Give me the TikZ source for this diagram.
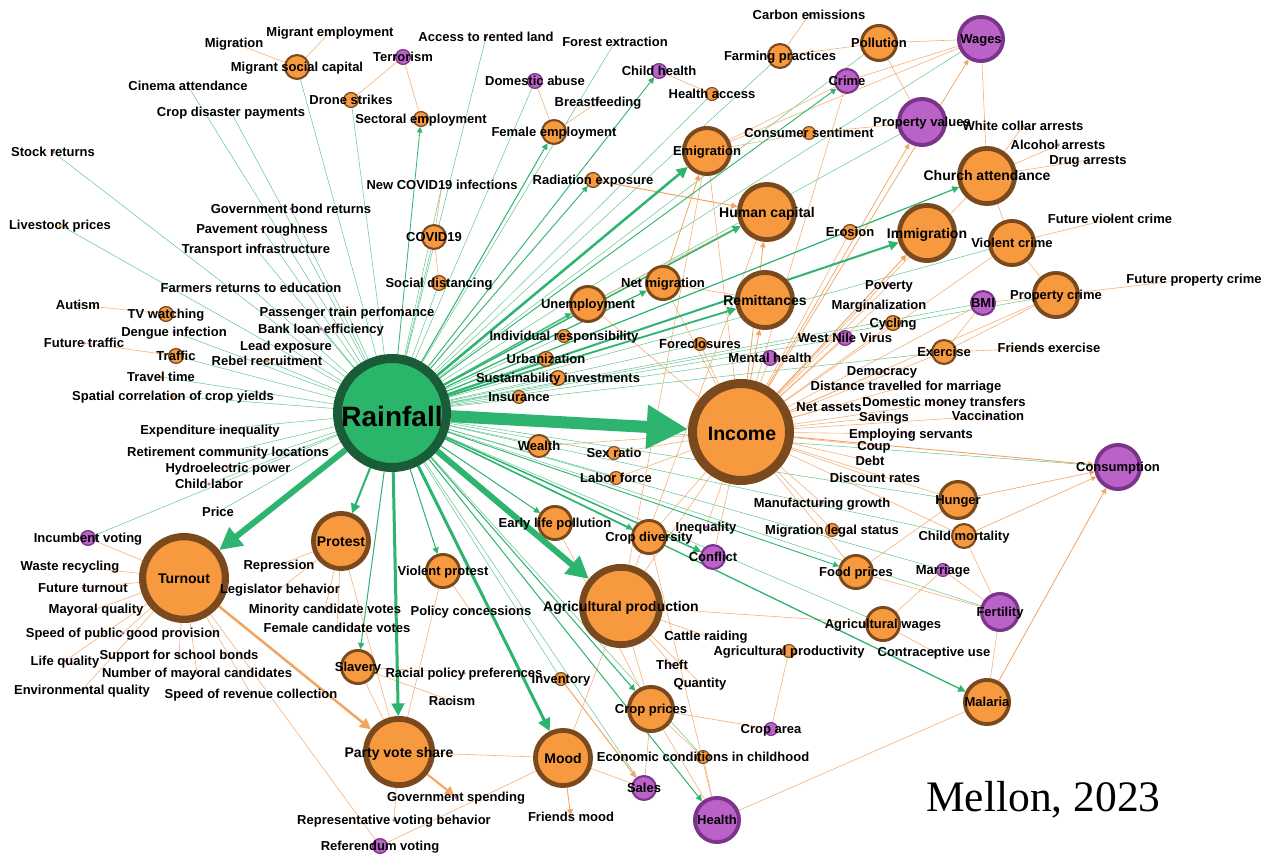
\documentclass[tikz,border=0pt]{standalone}
\usepackage{fontspec}
\setmainfont{Liberation Sans}
\newfontfamily\mellonfont{Liberation Serif}
\usetikzlibrary{arrows.meta}

\definecolor{ofill}{HTML}{F7993F}
\definecolor{oline}{HTML}{7A4A1E}
\definecolor{pfill}{HTML}{BA62C7}
\definecolor{pline}{HTML}{7A358A}
\definecolor{rfill}{HTML}{2BB56B}
\definecolor{rline}{HTML}{1B5C38}
\definecolor{gedge}{HTML}{2DB46E}
\definecolor{oedge}{HTML}{F4A461}

\pgfdeclarelayer{edgelayer}
\pgfdeclarelayer{textlayer}
\pgfsetlayers{edgelayer,main,textlayer}

\tikzset{
  ball/.style={circle, inner sep=0pt, minimum size={1.84pt*#1}, line width={0.16pt*#1}},
  onode/.style={ball=#1, fill=ofill, draw=oline},
  pnode/.style={ball=#1, fill=pfill, draw=pline},
  odot/.style={circle, inner sep=0pt, minimum size=3.5pt, fill=ofill},
  pdot/.style={circle, inner sep=0pt, minimum size=3.5pt, fill=pfill},
  lbl/.style={font=\bfseries\fontsize{13}{15}\selectfont, inner sep=0pt, anchor=base, yshift=-4.7pt},
  lblbig/.style={font=\bfseries\fontsize{14}{16}\selectfont, inner sep=0pt, anchor=base, yshift=-5pt},
  glink/.style={draw=gedge, line width=#1, -{Triangle[length=3pt 3.2, width=3pt 3.2]}},
  gthin/.style={draw=gedge, line width=0.5pt, draw opacity=0.75},
  olink/.style={draw=oedge, line width=#1, -{Triangle[length=3pt 3.2, width=3pt 3.2]}},
  othin/.style={draw=oedge, line width=0.6pt, draw opacity=0.85},
}

\begin{document}
\begin{tikzpicture}[x=1pt,y=-1pt,line cap=round,line join=round]
  \begin{pgfonlayer}{edgelayer}
    \path[fill=white, use as bounding box] (0,0) rectangle (1267,856);
  \end{pgfonlayer}

  \node[circle, inner sep=0pt, minimum size=109pt, line width=9pt, fill=rfill, draw=rline] (rain) at (392,413) {};
  \node[circle, inner sep=0pt, minimum size=97pt, line width=9pt, fill=ofill, draw=oline] (inc) at (741,432) {};

  \foreach \n/\x/\y/\rad/\txt in {
    turn/184/578/45/Turnout,
    agp/621/606/42/Agricultural production,
    pvs/399/752/36/Party vote share,
    mood/563/758/30/Mood,
    hcap/767/212/30/Human capital,
    remit/765/300/30/Remittances,
    immi/927/233/30/Immigration,
    church/987/176/30/Church attendance,
    protest/341/541/30/Protest}{
    \node[onode=\rad] (\n) at (\x,\y) {};
    \begin{pgfonlayer}{textlayer}
      \node[lblbig] (\n-t) at (\x,\y) {\txt};
    \end{pgfonlayer}
  }

  \foreach \n/\x/\y/\rad/\txt in {
    emig/707/151/25/Emigration,
    vcrime/1012/243/24/Violent crime,
    pcrime/1056/295/24/Property crime,
    malaria/987/702/24/Malaria,
    cprice/651/709/24/Crop prices,
    poll/879/43/19/Pollution,
    unemp/588/304/19/Unemployment,
    hunger/958/500/20/Hunger,
    netmig/663/283/18/Net migration,
    vprotest/443/571/18/Violent protest,
    slavery/358/667/18/Slavery,
    cdiv/649/537/18/Crop diversity,
    awage/883/624/18/Agricultural wages,
    fprice/856/572/18/Food prices,
    elpoll/555/523/18/Early life pollution,
    farm/780/56/13/Farming practices,
    msoc/297/67/13/Migrant social capital,
    femp/554/132/13/Female employment,
    covid/434/237/13/COVID19,
    wealth/539/446/12/Wealth,
    cmort/964/536/13/Child mortality,
    exer/944/352/13/Exercise,
    drone/351/100/8/Drone strikes,
    sectemp/421/119/8/Sectoral employment,
    radexp/593/180/8/Radiation exposure,
    socdist/439/283/8/Social distancing,
    hacc/712/94/7/Health access,
    consent/809/133/7/Consumer sentiment,
    erosion/850/232/8/Erosion,
    cycling/893/323/8/Cycling,
    foreclos/700/344/7/Foreclosures,
    indresp/564/336/7/Individual responsibility,
    urban/546/359/8/Urbanization,
    sustinv/558/378/8/Sustainability investments,
    insur/519/397/7/Insurance,
    sexratio/614/453/7/Sex ratio,
    laborf/616/478/7/Labor force,
    miglegal/832/530/7/Migration legal status,
    inventory/561/679/7/Inventory,
    agprod/789/651/7/Agricultural productivity,
    econchild/703/757/7/Economic conditions in childhood,
    traffic/176/356/8/Traffic,
    tv/166/314/8/TV watching}{
    \node[onode=\rad] (\n) at (\x,\y) {};
    \begin{pgfonlayer}{textlayer}
      \node[lbl] (\n-t) at (\x,\y) {\txt};
    \end{pgfonlayer}
  }

  \foreach \n/\x/\y/\rad/\txt in {
    wages/981/39/24/Wages,
    pval/922/122/25/Property values,
    consump/1118/467/24/Consumption,
    health/717/820/24/Health,
    fert/1000/612/20/Fertility,
    crime/847/81/13/Crime,
    bmi/983/303/13/BMI,
    conflict/713/557/13/Conflict,
    sales/644/788/13/Sales,
    terror/403/57/8/Terrorism,
    dabuse/535/81/8/Domestic abuse,
    chealth/659/71/8/Child health,
    wnv/845/338/8/West Nile Virus,
    mhealth/770/358/8/Mental health,
    croparea/771/729/7/Crop area,
    marriage/943/570/7/Marriage,
    incvote/88/538/8/Incumbent voting,
    refvote/380/846/8/Referendum voting}{
    \node[pnode=\rad] (\n) at (\x,\y) {};
    \begin{pgfonlayer}{textlayer}
      \node[lbl] (\n-t) at (\x,\y) {\txt};
    \end{pgfonlayer}
  }

  \foreach \n/\x/\y/\txt in {
    migr/234/43/Migration,
    migemp/330/32/Migrant employment,
    cdisp/231/112/Crop disaster payments,
    stock/53/152/Stock returns,
    gbond/291/209/Government bond returns,
    pave/262/229/Pavement roughness,
    transp/256/249/Transport infrastructure,
    rented/486/37/Access to rented land,
    forest/615/42/Forest extraction,
    breast/598/102/Breastfeeding,
    carbon/809/15/Carbon emissions,
    alcohol/1058/145/Alcohol arrests,
    drug/1088/160/Drug arrests,
    futvc/1110/219/Future violent crime,
    futpc/1194/279/Future property crime,
    frex/1049/348/Friends exercise,
    newcov/442/185/New COVID19 infections,
    poverty/889/285/Poverty,
    margin/879/305/Marginalization,
    democ/882/371/Democracy,
    distmar/906/386/Distance travelled for marriage,
    netass/829/407/Net assets,
    dommon/944/402/Domestic money transfers,
    vacc/988/416/Vaccination,
    servants/911/434/Employing servants,
    coup/874/446/Coup,
    manuf/822/503/Manufacturing growth,
    ineq/706/527/Inequality,
    cattle/706/636/Cattle raiding,
    contra/934/652/Contraceptive use,
    theft/672/665/Theft,
    autism/78/305/Autism,
    dengue/174/332/Dengue infection,
    futtraf/84/343/Future traffic,
    bank/321/329/Bank loan efficiency,
    lead/286/346/Lead exposure,
    expineq/210/430/Expenditure inequality,
    retire/228/452/Retirement community locations,
    childlab/209/484/Child labor,
    waste/70/566/Waste recycling,
    repress/279/565/Repression,
    futturn/83/588/Future turnout,
    legis/280/589/Legislator behavior,
    minor/325/609/Minority candidate votes,
    policy/471/611/Policy concessions,
    speedpg/123/633/Speed of public good provision,
    femcand/337/628/Female candidate votes,
    lifeq/65/661/Life quality,
    school/179/655/Support for school bonds,
    nmayor/197/673/Number of mayoral candidates,
    envq/82/690/Environmental quality,
    speedrev/251/694/Speed of revenue collection,
    racialp/464/673/Racial policy preferences,
    racism/452/701/Racism,
    govspend/456/797/Government spending,
    repvote/394/820/Representative voting behavior}{
    \node[pdot] (\n) at (\x,\y) {};
    \begin{pgfonlayer}{textlayer}
      \node[lbl] (\n-t) at (\x,\y) {\txt};
    \end{pgfonlayer}
  }

  \foreach \n/\x/\y/\txt in {
    cinema/188/86/Cinema attendance,
    livest/60/225/Livestock prices,
    farmret/251/288/Farmers returns to education,
    wcollar/1023/126/White collar arrests,
    savings/884/417/Savings,
    debt/870/461/Debt,
    discount/875/478/Discount rates,
    quant/700/683/Quantity,
    travel/161/377/Travel time,
    spatial/173/396/Spatial correlation of crop yields,
    train/347/312/Passenger train perfomance,
    rebel/267/361/Rebel recruitment,
    hydro/228/468/Hydroelectric power,
    price/218/512/Price,
    mayq/96/609/Mayoral quality,
    frmood/571/817/Friends mood}{
    \node[odot] (\n) at (\x,\y) {};
    \begin{pgfonlayer}{textlayer}
      \node[lbl] (\n-t) at (\x,\y) {\txt};
    \end{pgfonlayer}
  }

  \begin{pgfonlayer}{textlayer}
    \node[font=\bfseries\fontsize{28}{30}\selectfont, inner sep=0pt, anchor=base] (rain-t) at (392,426) {Rainfall};
    \node[font=\bfseries\fontsize{19.5}{22}\selectfont, inner sep=0pt, anchor=base] (inc-t) at (742,440) {Income};
    \node[font=\mellonfont\fontsize{43.5}{48}\selectfont, inner sep=0pt, anchor=base west] (cite) at (926,811) {Mellon, 2023};
  \end{pgfonlayer}

  \begin{pgfonlayer}{edgelayer}
    \foreach \n in {stock, livest, cinema, cdisp, msoc, drone, rented, forest, dabuse,
      gbond, pave, transp, farmret, covid, socdist, newcov, dengue, traffic, travel,
      spatial, train, bank, lead, rebel, expineq, retire, hydro, childlab, price, incvote,
      farm, poll, wages, pval, vcrime, bmi, exer, pcrime, indresp, urban, sustinv, insur,
      wealth, sexratio, laborf, consump, hunger, cmort, awage, fert, sales, econchild,
      inventory, mhealth, wnv, foreclos, hacc, marriage}
      \draw[gthin] (rain) -- (\n);

    \foreach \a/\b in {migr/msoc, migemp/msoc, terror/drone, terror/sectemp, dabuse/femp,
      breast/femp, chealth/hacc, carbon/farm, farm/poll, poll/wages, poll/pval, emig/crime,
      emig/wages, crime/wages, consent/pval, consent/emig, newcov/covid, covid/socdist,
      autism/tv, futtraf/traffic, church/wcollar, church/alcohol, church/drug, church/vcrime,
      vcrime/futvc, vcrime/pcrime, pcrime/futpc, pcrime/exer, pcrime/bmi, bmi/exer, exer/frex,
      wages/church, inc/crime, inc/poverty, inc/margin, inc/cycling, inc/wnv, inc/mhealth,
      inc/foreclos, inc/democ, inc/distmar, inc/netass, inc/dommon, inc/savings, inc/vacc,
      inc/servants, inc/coup, inc/debt, inc/discount, inc/hunger, inc/manuf, inc/miglegal,
      inc/ineq, inc/conflict, inc/cdiv, inc/cmort, inc/vcrime, inc/pcrime, inc/church,
      inc/bmi, inc/exer, inc/sexratio, inc/laborf, inc/wealth, inc/emig, inc/erosion,
      inc/netmig, inc/unemp, inc/fprice, inc/agp, turn/incvote, turn/waste, turn/futturn,
      turn/mayq, turn/speedpg, turn/lifeq, turn/envq, turn/school, turn/nmayor, turn/speedrev,
      turn/refvote, protest/repress, protest/legis, protest/minor, protest/femcand,
      protest/pvs, slavery/racialp, slavery/racism, slavery/pvs, vprotest/policy,
      vprotest/pvs, pvs/repvote, pvs/mood, refvote/mood, mood/agp, mood/sales, agp/cattle,
      agp/theft, agp/quant, agp/cprice, agp/awage, agp/emig, agp/hcap, cprice/croparea,
      cprice/health, cprice/econchild, cprice/sales, agprod/croparea, econchild/health,
      health/malaria, malaria/fert, fprice/hunger, fprice/fert, marriage/fert, cmort/fert,
      awage/contra, awage/marriage, elpoll/cprice, cdiv/health, netmig/remit, unemp/hcap}
      \draw[othin] (\a) -- (\b);

    \foreach \a/\b/\w in {turn/pvs/2.5pt, pvs/govspend/2pt, inventory/sales/1pt,
      mood/frmood/0.9pt, radexp/hcap/1pt, netmig/emig/0.8pt, inc/remit/0.8pt,
      inc/hcap/0.8pt, inc/immi/0.9pt, inc/wages/0.7pt, inc/consump/0.9pt,
      inc/pval/0.7pt, malaria/consump/0.8pt, cmort/consump/0.6pt, hunger/consump/0.6pt}
      \draw[olink=\w] (\a) -- (\b);

    \foreach \n/\w in {inc/12pt, turn/6pt, agp/6pt, pvs/3pt, mood/3pt, emig/2.5pt,
      protest/2pt, immi/2pt, remit/1.8pt, conflict/1.5pt, hcap/1.5pt, malaria/1.3pt,
      netmig/1.2pt, church/1.2pt, slavery/1pt, vprotest/1pt, elpoll/1pt, cdiv/1pt,
      femp/1pt, unemp/1pt, cprice/1pt, health/1pt, radexp/0.9pt, chealth/0.9pt,
      crime/0.9pt, fprice/0.9pt, sectemp/0.8pt}
      \draw[glink=\w] (rain) -- (\n);
  \end{pgfonlayer}
\end{tikzpicture}
\end{document}
